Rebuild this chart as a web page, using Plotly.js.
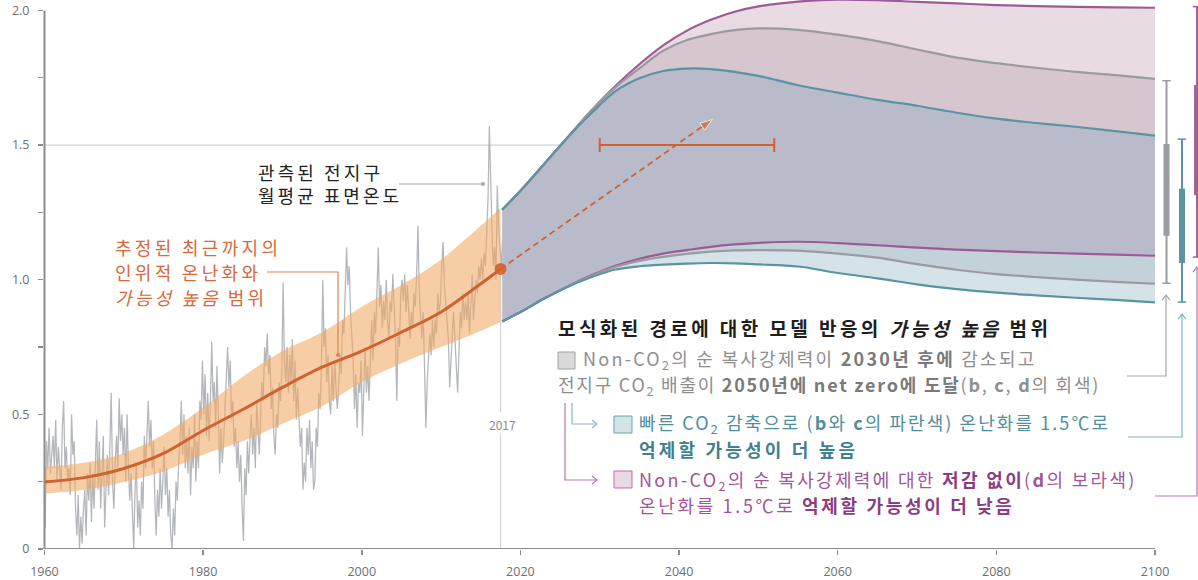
<!DOCTYPE html>
<html><head><meta charset="utf-8">
<script src="https://cdn.plot.ly/plotly-3.0.1.min.js"></script>
<style>html,body{margin:0;padding:0;background:#fff}#chart{width:1198px;height:580px}</style>
</head><body><div id="chart"></div>
<script>
// ---------- DATA ----------
const obsStartYear = 1960;
const obsPerYear = 6;
const obsValues = [
0.08,0.40,0.30,0.45,0.28,0.35, 0.42,0.30,0.48,0.25,0.38,0.30, 0.22,0.45,0.55,0.30,0.38,0.26, 0.30,0.20,0.50,0.35,0.40,0.15,
0.05,0.20,0.00,0.12,0.02,0.15, 0.22,0.05,0.28,0.18,0.32,0.10, 0.28,0.15,0.35,0.48,0.22,0.40, 0.15,0.30,0.42,0.08,0.25,0.35,
0.20,0.45,0.58,0.25,0.15,0.32, 0.42,0.30,0.56,0.40,0.50,0.35, 0.45,0.25,0.50,0.30,0.18,0.28, 0.10,0.00,0.22,0.32,0.08,0.18,
0.05,0.25,0.15,0.42,0.30,0.45, 0.55,0.38,0.48,0.30,0.40,0.18, 0.05,0.22,0.12,0.30,0.15,0.25, 0.38,0.20,0.30,0.12,0.22,0.05,
0.00,0.15,0.05,0.25,0.18,0.32, 0.40,0.55,0.35,0.50,0.30,0.42, 0.28,0.45,0.20,0.38,0.30,0.50, 0.25,0.40,0.30,0.55,0.48,0.70,
0.50,0.65,0.42,0.58,0.40,0.55, 0.77,0.55,0.62,0.45,0.68,0.50, 0.28,0.45,0.32,0.40,0.50,0.62, 0.75,0.60,0.70,0.48,0.55,0.38,
0.45,0.30,0.40,0.25,0.35,0.15, 0.03,0.30,0.20,0.40,0.28,0.42, 0.50,0.35,0.45,0.30,0.55,0.45, 0.35,0.50,0.62,0.55,0.75,0.68,
0.80,0.65,0.72,0.52,0.60,0.42, 0.35,0.50,0.45,0.62,0.55,0.65, 0.99,0.70,0.62,0.75,0.58,0.72, 0.62,0.78,0.55,0.70,0.48,0.60,
0.50,0.38,0.45,0.22,0.32,0.25, 0.45,0.35,0.48,0.30,0.40,0.22, 0.25,0.45,0.38,0.58,0.52,0.68, 1.00,0.75,0.82,0.62,0.72,0.55,
0.50,0.68,0.55,0.70,0.60,0.52, 0.60,0.72,0.65,0.85,0.80,0.95, 1.12,0.98,1.05,0.88,0.80,0.70, 0.52,0.65,0.45,0.62,0.58,0.70,
0.42,0.62,0.75,0.58,0.68,0.55, 0.72,0.85,0.70,0.88,0.80,0.95, 1.12,0.90,0.98,0.82,0.92,0.85, 1.00,0.85,0.78,0.92,0.88,1.02,
0.92,0.78,0.55,0.82,0.75,0.95, 1.00,0.92,1.02,0.88,0.98,0.90, 0.78,0.88,0.82,0.95,0.90,1.02, 1.20,0.95,0.85,0.78,0.88,0.70,
0.45,0.62,0.70,0.80,0.72,0.85, 0.75,0.85,0.80,0.95,0.88,0.92, 1.05,1.14,0.98,0.90,0.85,0.78, 0.60,0.72,0.80,0.88,0.75,0.68,
0.58,0.75,0.88,0.82,0.95,0.85, 0.92,0.85,0.95,0.80,0.92,1.02, 0.85,0.92,1.00,0.95,1.05,1.00, 1.08,1.00,1.10,1.05,1.20,1.30,
1.57,1.35,1.18,1.05,1.12,1.00, 1.35,1.20,1.10,1.05,1.15,1.08
];

const bandYears   = [1960, 1965, 1970, 1975, 1980, 1985, 1990, 1995, 2000, 2005, 2010, 2015, 2017.5];
const bandCentral = [0.249,0.265,0.299,0.355,0.440,0.518,0.600,0.675,0.735,0.805,0.880,0.985,1.04];
const bandLow     = [0.206,0.220,0.249,0.288,0.350,0.400,0.465,0.530,0.620,0.690,0.750,0.810,0.843];
const bandHigh    = [0.305,0.320,0.356,0.425,0.525,0.640,0.735,0.805,0.900,0.980,1.075,1.200,1.265];

const projYears   = [2017.7,2020,2023,2026,2029,2032,2035,2038,2041,2044,2047,2050,2055,2060,2065,2070,2075,2080,2085,2090,2095,2100];
const purpleUpper = [1.26,1.33,1.43,1.53,1.63,1.72,1.80,1.87,1.925,1.965,1.995,2.015,2.033,2.040,2.038,2.032,2.026,2.020,2.016,2.013,2.011,2.010];
const grayUpper   = [1.26,1.33,1.43,1.53,1.63,1.715,1.785,1.85,1.89,1.912,1.927,1.933,1.928,1.910,1.886,1.855,1.825,1.804,1.787,1.772,1.760,1.746];
const blueUpper   = [1.26,1.33,1.43,1.53,1.62,1.70,1.748,1.775,1.784,1.782,1.772,1.757,1.722,1.695,1.668,1.646,1.620,1.598,1.582,1.568,1.552,1.535];
const purpleLower = [0.845,0.88,0.93,0.976,1.017,1.052,1.078,1.097,1.110,1.122,1.131,1.137,1.141,1.136,1.128,1.119,1.112,1.106,1.101,1.097,1.093,1.089];
const grayLower   = [0.845,0.88,0.93,0.976,1.015,1.048,1.070,1.085,1.096,1.104,1.109,1.110,1.108,1.097,1.082,1.058,1.037,1.021,1.010,1.000,0.992,0.985];
const blueLower   = [0.845,0.88,0.93,0.974,1.010,1.038,1.050,1.056,1.060,1.062,1.061,1.057,1.049,1.025,1.005,0.983,0.965,0.952,0.942,0.933,0.925,0.916];

// 2100 ranges (gray b, blue c, purple d)
const boxLow  = [0.987, 0.917, 1.084];
const boxQ1   = [1.163, 1.062, 1.314];
const boxQ3   = [1.504, 1.338, 1.723];
const boxHigh = [1.739, 1.522, 2.014];

const arrowYears  = [2017.5, 2044.2];
const arrowValues = [1.04, 1.595];
const crossYears  = [2030, 2052];
const crossLevel  = 1.5;

const xTickVals = [1960,1980,2000,2020,2040,2060,2080,2100];
const yTickVals = [0,0.5,1.0,1.5,2.0];
const yTickText = ['0','0.5','1.0','1.5','2.0'];
const yMinorTickVals = [0.25,0.75,1.25,1.75];

// ---------- STYLE ----------
const ORANGE = '#d0622f';
const C_PURPLE = '#9d5a95', C_GRAY = '#9a9ba0', C_BLUE = '#5a93a3';
const FONT = 'Noto Sans CJK KR, Noto Sans, sans-serif';
const L = 44, B = 31, W = 1154, H = 549;
const PX = x => (x - L) / W;
const PY = y => (H - y) / H;

const obsYears = obsValues.map((v, i) => obsStartYear + (i + 0.5) / obsPerYear);
const traces = [];

traces.push({x: obsYears, y: obsValues, mode: 'lines', line: {color: '#b3b6bb', width: 1.25}, hoverinfo: 'skip'});
traces.push({x: bandYears, y: bandLow, mode: 'lines', line: {width: 0, shape: 'spline'}, hoverinfo: 'skip'});
traces.push({x: bandYears, y: bandHigh, mode: 'lines', fill: 'tonexty', fillcolor: 'rgba(242,168,100,0.58)', line: {width: 0, shape: 'spline'}, hoverinfo: 'skip'});
traces.push({x: bandYears, y: bandCentral, mode: 'lines', line: {color: ORANGE, width: 3, shape: 'spline'}, hoverinfo: 'skip'});

const fillSeq = [
  [blueLower, null],
  [grayLower, '#d3e3e8'],
  [purpleLower, '#c3d2d9'],
  [blueUpper, '#b9bbca'],
  [grayUpper, '#d5c6d0'],
  [purpleUpper, '#e9dbe4']
];
fillSeq.forEach(([arr, col]) => {
  traces.push({x: projYears, y: arr, mode: 'lines', line: {width: 0, shape: 'spline'},
    fill: col ? 'tonexty' : 'none', fillcolor: col || undefined, hoverinfo: 'skip'});
});
[[purpleUpper, C_PURPLE], [purpleLower, C_PURPLE], [grayUpper, C_GRAY], [grayLower, C_GRAY], [blueUpper, C_BLUE], [blueLower, C_BLUE]]
 .forEach(([arr, col]) => traces.push({x: projYears, y: arr, mode: 'lines', line: {color: col, width: 2.2, shape: 'spline'}, hoverinfo: 'skip'}));

traces.push({x: arrowYears, y: arrowValues, mode: 'lines+markers', line: {color: ORANGE, width: 1.8, dash: '6px,4px'},
  marker: {symbol: ['circle', 'arrow'], size: [0, 13], angleref: 'previous', color: ORANGE}, hoverinfo: 'skip'});
traces.push({x: crossYears, y: [crossLevel, crossLevel], mode: 'lines+markers', line: {color: ORANGE, width: 2},
  marker: {symbol: 'line-ns', size: 10, line: {color: ORANGE, width: 2}}, hoverinfo: 'skip'});
traces.push({x: [bandYears[bandYears.length - 1]], y: [bandCentral[bandCentral.length - 1]], mode: 'markers',
  marker: {color: ORANGE, size: 12, opacity: 0.9}, cliponaxis: false, hoverinfo: 'skip'});

const boxPos = [2101.45, 2103.4, 2105.3];
const boxCol = ['#9a9ca1', '#5c94a4', '#a0609a'];
boxLow.forEach((lo, i) => {
  traces.push({x: [boxPos[i], boxPos[i]], y: [lo, boxHigh[i]], mode: 'lines+markers', line: {color: boxCol[i], width: 2},
    marker: {symbol: 'line-ew', size: 6, line: {color: boxCol[i], width: 1.5}}, cliponaxis: false, hoverinfo: 'skip'});
  traces.push({x: [boxPos[i], boxPos[i]], y: [boxQ1[i], boxQ3[i]], mode: 'lines', line: {color: boxCol[i], width: 6}, hoverinfo: 'skip'});
});

// ---------- SHAPES ----------
const shapes = [];
function pathPx(pts, color, width) {
  const d = pts.map((p, i) => (i ? 'L' : 'M') + PX(p[0]).toFixed(5) + ',' + PY(p[1]).toFixed(5)).join(' ');
  shapes.push({type: 'path', xref: 'paper', yref: 'paper', path: d, line: {color, width}});
}
function dotPx(x, y, r, color) {
  shapes.push({type: 'circle', xref: 'paper', yref: 'paper', x0: PX(x - r), x1: PX(x + r), y0: PY(y + r), y1: PY(y - r), fillcolor: color, line: {width: 0}});
}
function rectPx(x0, y0, x1, y1, fill, line) {
  shapes.push({type: 'rect', xref: 'paper', yref: 'paper', x0: PX(x0), x1: PX(x1), y0: PY(y1), y1: PY(y0), fillcolor: fill, line: {color: line, width: 1}});
}
shapes.push({type: 'line', xref: 'x', yref: 'y', x0: 1960, x1: 2100, y0: 1.5, y1: 1.5, line: {color: '#c4c4c4', width: 1}, layer: 'below'});
shapes.push({type: 'line', xref: 'x', yref: 'y', x0: 2017.5, x1: 2017.5, y0: 0, y1: 0.43, line: {color: '#cfcfcf', width: 1}, layer: 'below'});
shapes.push({type: 'line', xref: 'x', yref: 'y', x0: 2017.5, x1: 2017.5, y0: 0.51, y1: 1.02, line: {color: '#cfcfcf', width: 1}, layer: 'below'});
shapes.push({type: 'line', xref: 'paper', yref: 'y', x0: PX(44.5), x1: PX(44.5), y0: 0, y1: 2.0, line: {color: '#8c8c8c', width: 2}});
shapes.push({type: 'line', xref: 'x', yref: 'y', x0: 1959.9, x1: 2100, y0: 0, y1: 0, line: {color: '#8c8c8c', width: 2}});

pathPx([[399, 184], [483, 184]], '#a6a6a6', 1.2); dotPx(483, 184, 2, '#a6a6a6');
pathPx([[267, 272], [338, 272], [338, 355]], '#d98356', 1.2); dotPx(338, 355, 2, '#d98356');
pathPx([[572, 403], [572, 424], [597, 424]], '#8ab8c4', 1.2); pathPx([[592, 420], [597, 424], [592, 428]], '#8ab8c4', 1.2);
pathPx([[565, 403], [565, 480], [597, 480]], '#b37bab', 1.2); pathPx([[592, 476], [597, 480], [592, 484]], '#b37bab', 1.2);
pathPx([[1127, 376], [1166, 376], [1166, 296]], '#a8a8a8', 1.2); pathPx([[1162, 300], [1166, 295], [1170, 300]], '#a8a8a8', 1.2);
pathPx([[1128, 437], [1182, 437], [1182, 315]], '#7fb2bf', 1.2); pathPx([[1178, 319], [1182, 314], [1186, 319]], '#7fb2bf', 1.2);
pathPx([[1155, 496], [1197, 496], [1197, 268]], '#b47aac', 1.2); pathPx([[1193, 272], [1197, 267], [1201, 272]], '#b47aac', 1.2);
rectPx(558, 352, 575, 369, '#d9d9d9', '#a3a3a3');
rectPx(614, 416, 632, 433, '#d3e4e9', '#6aa0ae');
rectPx(614, 471, 632, 488, '#ead8e4', '#b075a8');

// ---------- ANNOTATIONS ----------
const ann = [];
const targetWidths = [];
function txt(x, y, text, size, color, targetRight) {
  ann.push({xref: 'paper', yref: 'paper', x: PX(x), y: PY(y), xanchor: 'left', yanchor: 'middle', align: 'left',
    showarrow: false, text, font: {family: FONT, size, color}, borderpad: 0});
  targetWidths.push(targetRight ? targetRight - x : null);
}
txt(257, 172, '관측된 전지구', 18, '#222', 379);
txt(257, 195, '월평균 표면온도', 18, '#222', 398);
txt(114, 247, '추정된 최근까지의', 18, '#d4693c', 277);
txt(114, 272, '인위적 온난화와', 18, '#d4693c', 257);
txt(114, 297, '<i>가능성 높음</i> 범위', 18, '#d4693c', 263);
txt(488, 424, '2017', 12, '#8a8a8a', null);
txt(557, 327, '<b>모식화된 경로에 대한 모델 반응의 <i>가능성 높음</i> 범위</b>', 19, '#1e1e1e', 1047);
const G = '#8e8e8e', GB = '#7a7a7a';
txt(582, 359, 'Non-CO<sub>2</sub>의 순 복사강제력이 <b><span style="color:' + GB + '">2030년 후에</span></b> 감소되고', 18, G, 1038);
txt(557, 385, '전지구 CO<sub>2</sub> 배출이 <b><span style="color:' + GB + '">2050년에 net zero에 도달</span></b>(<b>b</b>, <b>c</b>, <b>d</b>의 회색)', 18, G, 1101);
const BL = '#4f8e9d', BLB = '#3f7f8e';
txt(638, 423, '빠른 CO<sub>2</sub> 감축으로 (<b>b</b>와 <b>c</b>의 파란색) 온난화를 1.5℃로', 18, BL, 1111);
txt(638, 449, '<b>억제할 가능성이 더 높음</b>', 18, BLB, 854);
const PU = '#a1559a', PUB = '#8b3d83';
txt(638, 480, 'Non-CO<sub>2</sub>의 순 복사강제력에 대한 <b><span style="color:' + PUB + '">저감 없이</span></b>(<b>d</b>의 보라색)', 18, PU, 1138);
txt(638, 505, '온난화를 1.5℃로 <b><span style="color:' + PUB + '">억제할 가능성이 더 낮음</span></b>', 18, PU, 1011);

const tickFont = {family: 'Open Sans, sans-serif', size: 12.5, color: '#6e6e6e'};
const layout = {
  width: 1198, height: 580,
  margin: {l: L, r: 0, t: 0, b: B},
  paper_bgcolor: '#fff', plot_bgcolor: '#fff',
  showlegend: false,
  xaxis: {range: [1959.94, 2105.42], tickvals: xTickVals, ticks: 'outside', ticklen: 5, tickwidth: 1.5, tickcolor: '#8c8c8c',
    showgrid: false, zeroline: false, showline: false, tickfont: tickFont, ticklabelstandoff: 6},
  yaxis: {range: [0, 2.0387], tickvals: yTickVals, ticktext: yTickText, ticks: 'outside', ticklen: 5, tickwidth: 1.5, tickcolor: '#8c8c8c',
    minor: {tickvals: yMinorTickVals, ticks: 'outside', ticklen: 5, tickwidth: 1.5, tickcolor: '#8c8c8c', showgrid: false},
    showgrid: false, zeroline: false, showline: false, tickfont: tickFont, ticklabelstandoff: 6},
  shapes, annotations: ann
};
Plotly.newPlot('chart', traces, layout, {staticPlot: true, displayModeBar: false}).then(() => {
  const texts = document.querySelectorAll('#chart .annotation-text');
  texts.forEach((el, i) => {
    const tw = targetWidths[i];
    if (!tw) return;
    const w = el.getBBox().width;
    const n = (el.textContent || '').length;
    if (n > 1 && tw > w) el.style.letterSpacing = ((tw - w) / (n - 1)).toFixed(2) + 'px';
  });
});
</script></body></html>
